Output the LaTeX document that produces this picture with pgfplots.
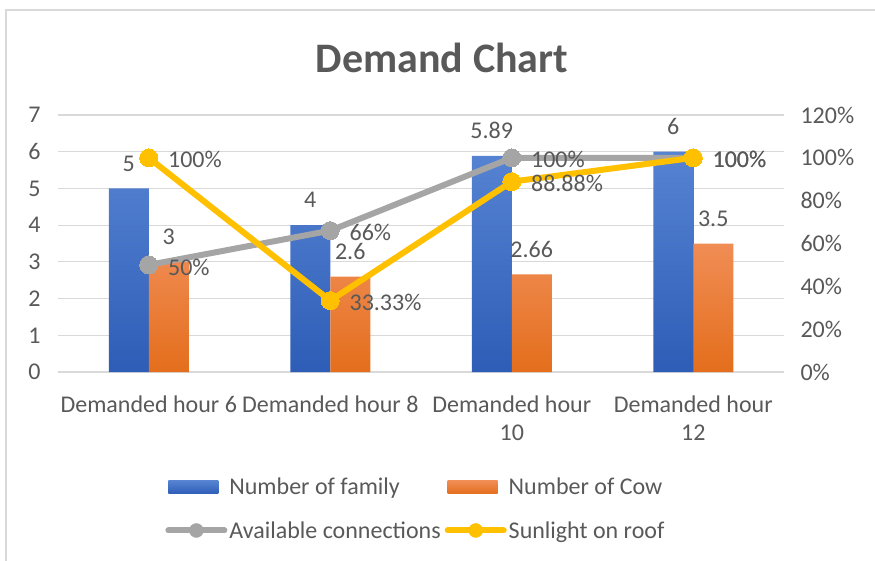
\documentclass[border=0pt]{standalone}
\usepackage{pgfplots}
\pgfplotsset{compat=1.18}
\usepackage{fontspec}
\setmainfont{Carlito}

\definecolor{txt}{HTML}{595959}
\definecolor{gridc}{HTML}{D9D9D9}
\definecolor{frame}{HTML}{D9D9D9}
\definecolor{bluetop}{HTML}{5683D2}
\definecolor{bluebot}{HTML}{2E5DB7}
\definecolor{orangetop}{HTML}{F08D55}
\definecolor{orangebot}{HTML}{E46E1C}
\definecolor{greyline}{HTML}{A5A5A5}
\definecolor{yellowline}{HTML}{FFC000}

\newcommand{\lbl}{\fontsize{24}{28}\selectfont}

\begin{document}
\begin{tikzpicture}[x=1pt,y=1pt]
\useasboundingbox (0,0) rectangle (875,560);
\draw[frame, line width=1.5pt] (6,-5) -- (6,550) -- (880,550);
\node[font=\bfseries\fontsize{42}{50}\selectfont, text=txt] at (442,502) {Demand Chart};

% left axis: bars
\begin{axis}[
    at={(58pt,188pt)}, anchor=south west,
    scale only axis, width=726pt, height=257pt,
    xmin=-0.5, xmax=3.5, ymin=0, ymax=7,
    xtick={0,1,2,3},
    xticklabels={Demanded hour 6, Demanded hour 8, {Demanded hour\\10}, {Demanded hour\\12}},
    xticklabel style={align=center, yshift=-20pt},
    ytick={0,1,...,7},
    yticklabel style={xshift=-14pt},
    ymajorgrids, grid style={gridc, line width=1.2pt},
    axis line style={draw=none}, major tick length=0pt,
    tick label style={font=\lbl, text=txt},
    /pgf/number format/assume math mode=true,
    clip=false,
    legend columns=2,
    legend cell align=left,
    legend style={at={(rel axis cs:0.493,-0.397)}, anchor=north, draw=none, fill=none,
        font=\lbl, text=txt, row sep=21pt,
        /tikz/every even column/.append style={column sep=2pt}},
    nodes near coords,
    point meta=explicit symbolic,
    nodes near coords style={font=\lbl, text=txt, anchor=center, yshift=25pt},
]
\addplot[ybar, bar width=40pt, bar shift=-20pt, draw=none, top color=bluetop, bottom color=bluebot,
    every node near coord/.append style={xshift=-20pt},
    legend image code/.code={\shade[top color=bluetop, bottom color=bluebot] (0pt,-6.5pt) rectangle (50pt,6.5pt);}]
    coordinates {(0,5) [5] (1,4) [4] (2,5.89) [5.89] (3,6) [6]};
\addlegendentry{Number of family}
\addplot[ybar, bar width=40pt, bar shift=20pt, draw=none, top color=orangetop, bottom color=orangebot,
    every node near coord/.append style={xshift=20pt},
    legend image code/.code={\shade[top color=orangetop, bottom color=orangebot] (0pt,-6.5pt) rectangle (50pt,6.5pt);}]
    coordinates {(0,3) [3] (1,2.6) [2.6] (2,2.66) [2.66] (3,3.5) [3.5]};
\addlegendentry{Number of Cow}
\addlegendimage{legend image code/.code={\draw[greyline, line width=6pt, line cap=round] (0pt,0pt) -- (56pt,0pt); \fill[greyline] (28pt,0pt) circle (7pt);}}
\addlegendentry{Available connections}
\addlegendimage{legend image code/.code={\draw[yellowline, line width=6pt, line cap=round] (0pt,0pt) -- (56pt,0pt); \fill[yellowline] (28pt,0pt) circle (7pt);}}
\addlegendentry{Sunlight on roof}
\end{axis}

% right axis: percentages
\begin{axis}[
    at={(58pt,188pt)}, anchor=south west,
    scale only axis, width=726pt, height=257pt,
    xmin=-0.5, xmax=3.5, ymin=0, ymax=120,
    axis x line=none, axis y line*=right,
    ytick={0,20,...,120},
    yticklabel={\pgfmathprintnumber{\tick}\%},
    yticklabel style={xshift=13pt},
    axis line style={draw=none}, major tick length=0pt,
    tick label style={font=\lbl, text=txt},
    /pgf/number format/assume math mode=true,
    clip=false,
    nodes near coords,
    point meta=explicit symbolic,
    nodes near coords style={font=\lbl, text=txt, anchor=west, xshift=16pt, yshift=-2pt},
]
\addplot[greyline, line width=6pt, mark=*, mark size=9pt, mark options={fill=greyline, draw=greyline, line width=0pt}]
    coordinates {(0,50) [50\%] (1,66) [66\%] (2,100) [100\%] (3,100) [100\%]};
\addplot[yellowline, line width=6pt, mark=*, mark size=9pt, mark options={fill=yellowline, draw=yellowline, line width=0pt}]
    coordinates {(0,100) [100\%] (1,33.33) [33.33\%] (2,88.88) [88.88\%] (3,100) [100\%]};
\end{axis}
\end{tikzpicture}
\end{document}
